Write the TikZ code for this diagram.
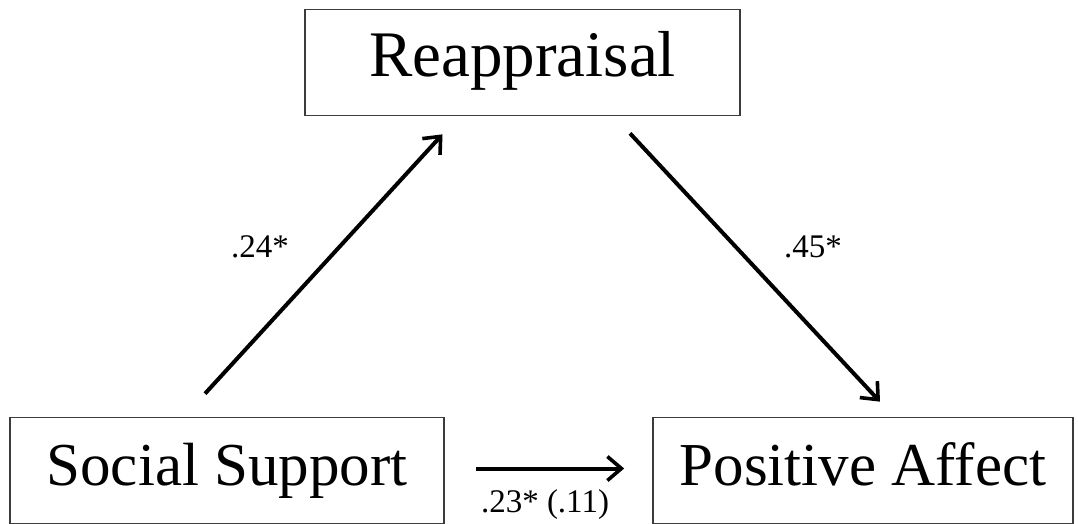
\documentclass[tikz,border=0pt]{standalone}
\usepackage{fontspec}
\setmainfont{Liberation Serif}
\usetikzlibrary{arrows.meta,calc}
\definecolor{boxline}{RGB}{60, 60, 60}

\tikzset{
    varbox/.style={draw=boxline, line width=1.7pt, minimum width=#1, minimum height=106pt,
        inner sep=0pt, text height=42pt, text depth=13pt, font=\fontsize{61}{70}\selectfont},
    path/.style={line width=4pt, ->},
    coef/.style={font=\fontsize{33}{38}\selectfont, inner sep=0pt}
}

\begin{document}
\begin{tikzpicture}[x=1pt, y=-1pt, >={Straight Barb[length=14pt, width=24pt, line width=3.6pt]}]
        \useasboundingbox (0,0) rectangle (1078,524);

        \node[varbox=435pt, font=\fontsize{65}{72}\selectfont] (reap) at (522.5,62.5) {Reappraisal};
        \node[varbox=434pt] (social) at (227,470.5) {Social Support};
        \node[varbox=420pt] (posaff) at (863,470.5) {Positive Affect};

        %\draw[path] (social) -- (reap);
        \draw[path] ([shift={(-22,-23)}]social.north) -- ([shift={(-80,18)}]reap.south);
        \draw[path] ([shift={(107.5,17)}]reap.south) -- ([shift={(17,-15)}]posaff.north);
        \draw[path] ([shift={(31,-2)}]social.east) -- ([shift={(-28,-2)}]posaff.west);

        \node[coef] (atob) at (260,247) {.24*};
        \node[coef] (btoc) at (813,247) {.45*};
        \node[coef] (atoc) at (545,505) {.23* (.11)};
\end{tikzpicture}
\end{document}
